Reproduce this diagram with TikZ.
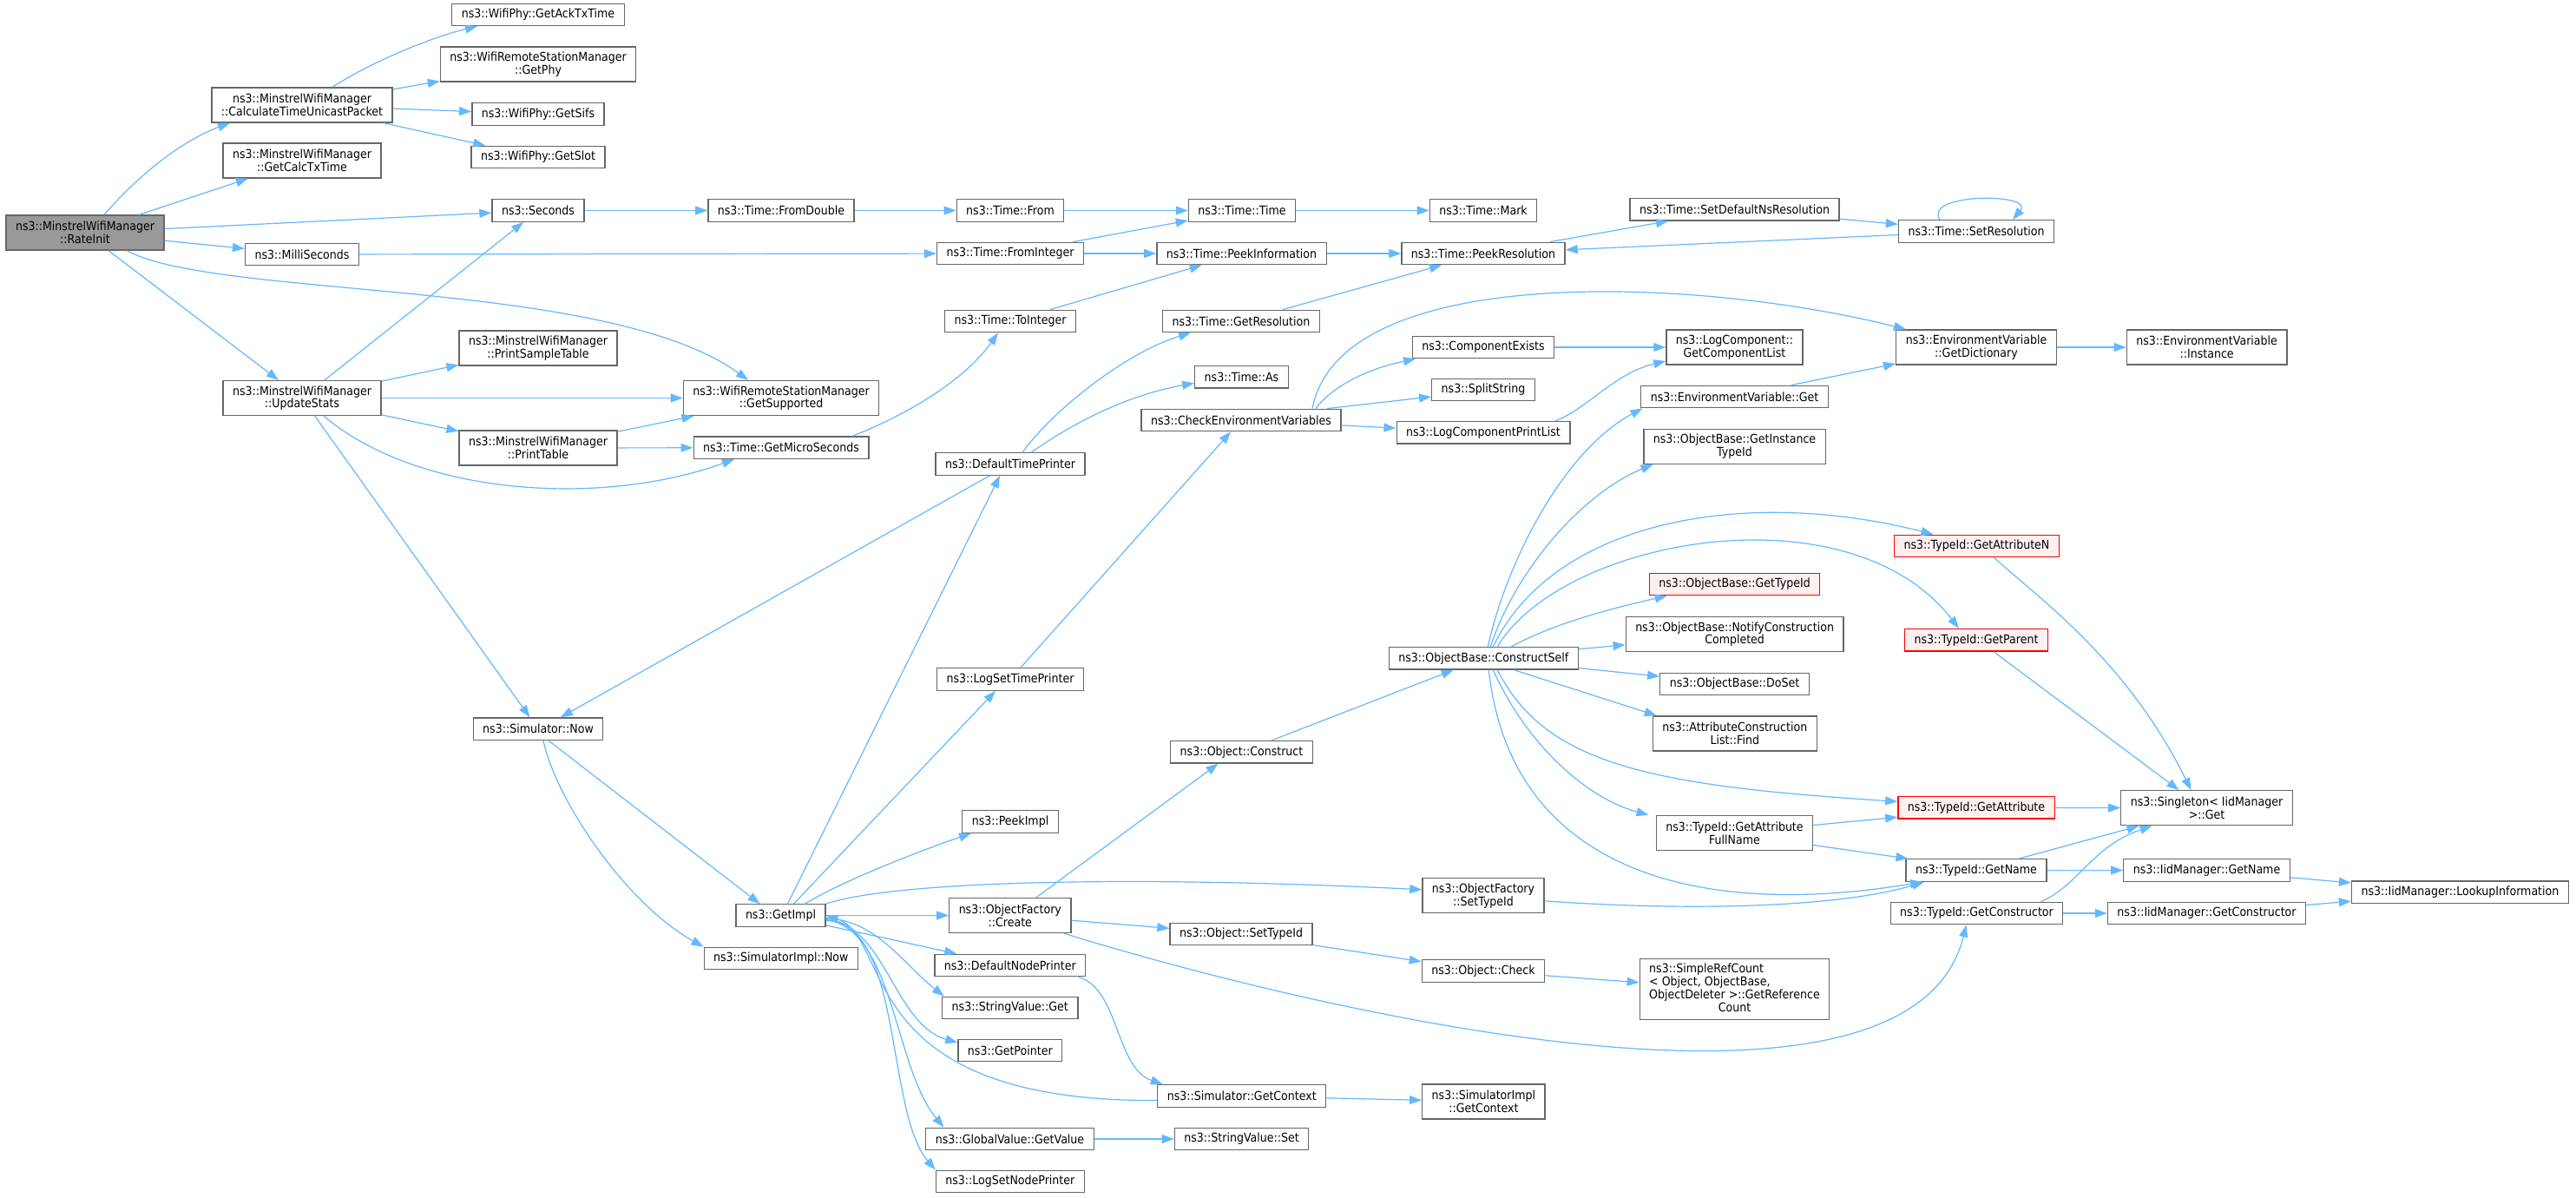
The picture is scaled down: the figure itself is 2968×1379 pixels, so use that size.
\documentclass[tikz,border=0pt]{standalone}
\usepackage{fontspec}
\setmainfont{DejaVu Sans}[FakeStretch=0.9]
\usetikzlibrary{arrows.meta}
\definecolor{edgeblue}{HTML}{63B8FF}
\definecolor{boxgray}{HTML}{666666}
\definecolor{rootgray}{HTML}{999999}
\definecolor{redfill}{HTML}{FFF0F0}
\begin{document}
\begin{tikzpicture}[x=1pt,y=-1pt,font=\fontsize{14}{14.7}\selectfont,
	fn/.style={draw=boxgray,fill=white,line width=1.3pt,minimum height=25.5pt,inner xsep=11pt,inner ysep=3pt,align=center},
	fntwo/.style={fn,minimum height=40pt},
	fnroot/.style={fntwo,fill=rootgray},
	fnred/.style={fn,draw=red,fill=redfill},
	call/.style={draw=edgeblue,line width=1.2pt,-{Triangle[length=14pt,width=10pt]}}]
		\useasboundingbox (0,0) rectangle (2968,1379);
		\fill[white] (0,0) rectangle (2968,1379);
		\node[fnroot] (ri) at (98,268) {ns3::MinstrelWifiManager\\::RateInit};
		\node[fntwo] (calc) at (348,121) {ns3::MinstrelWifiManager\\::CalculateTimeUnicastPacket};
		\node[fntwo] (calctx) at (348,185) {ns3::MinstrelWifiManager\\::GetCalcTxTime};
		\node[fn] (msec) at (348,293) {ns3::MilliSeconds};
		\node[fntwo] (us) at (348,458.5) {ns3::MinstrelWifiManager\\::UpdateStats};
		\node[fn] (ack) at (620,17) {ns3::WifiPhy::GetAckTxTime};
		\node[fntwo] (phy) at (620,74) {ns3::WifiRemoteStationManager\\::GetPhy};
		\node[fn] (sifs) at (620,131.5) {ns3::WifiPhy::GetSifs};
		\node[fn] (slot) at (620,181) {ns3::WifiPhy::GetSlot};
		\node[fn] (sec) at (620,242.5) {ns3::Seconds};
		\node[fntwo] (pst) at (620,401) {ns3::MinstrelWifiManager\\::PrintSampleTable};
		\node[fntwo] (pt) at (620,516) {ns3::MinstrelWifiManager\\::PrintTable};
		\node[fn] (snow) at (620,839.7) {ns3::Simulator::Now};
		\node[fn] (fdbl) at (900,242.5) {ns3::Time::FromDouble};
		\node[fntwo] (gsup) at (900,458.5) {ns3::WifiRemoteStationManager\\::GetSupported};
		\node[fn] (gms) at (900,515.7) {ns3::Time::GetMicroSeconds};
		\node[fn] (gi) at (899.5,1054.5) {ns3::GetImpl};
		\node[fn] (sin) at (899.8,1104) {ns3::SimulatorImpl::Now};
		\node[fn] (from) at (1164,242.5) {ns3::Time::From};
		\node[fn] (fint) at (1164,292) {ns3::Time::FromInteger};
		\node[fn] (toint) at (1164,370) {ns3::Time::ToInteger};
		\node[fn] (dtp) at (1164,534.5) {ns3::DefaultTimePrinter};
		\node[fn] (lstp) at (1164,782.5) {ns3::LogSetTimePrinter};
		\node[fn] (pim) at (1164,946.5) {ns3::PeekImpl};
		\node[fntwo] (ofc) at (1163.8,1054.5) {ns3::ObjectFactory\\::Create};
		\node[fn] (dnp) at (1163.8,1112) {ns3::DefaultNodePrinter};
		\node[fn] (svg) at (1163.8,1161) {ns3::StringValue::Get};
		\node[fn] (gp) at (1163.8,1210) {ns3::GetPointer};
		\node[fn] (gvgv) at (1163.5,1312) {ns3::GlobalValue::GetValue};
		\node[fn] (lsnp) at (1163.8,1361) {ns3::LogSetNodePrinter};
		\node[fn] (tt) at (1431,242.5) {ns3::Time::Time};
		\node[fn] (pinf) at (1430.5,292) {ns3::Time::PeekInformation};
		\node[fn] (gres) at (1430,370) {ns3::Time::GetResolution};
		\node[fn] (as) at (1430.5,434.3) {ns3::Time::As};
		\node[fn] (cev) at (1430,484) {ns3::CheckEnvironmentVariables};
		\node[fn] (oc) at (1430.5,866.3) {ns3::Object::Construct};
		\node[fn] (ost) at (1430,1076) {ns3::Object::SetTypeId};
		\node[fn] (sgc) at (1430.8,1262.5) {ns3::Simulator::GetContext};
		\node[fn] (svs) at (1430.6,1312) {ns3::StringValue::Set};
		\node[fn] (mark) at (1709,242.5) {ns3::Time::Mark};
		\node[fn] (pres) at (1709,292) {ns3::Time::PeekResolution};
		\node[fn] (cex) at (1709,400) {ns3::ComponentExists};
		\node[fn] (split) at (1709,449) {ns3::SplitString};
		\node[fn] (lcpl) at (1709,498.3) {ns3::LogComponentPrintList};
		\node[fn] (cs) at (1709.3,758.3) {ns3::ObjectBase::ConstructSelf};
		\node[fntwo] (ofst) at (1709,1031.8) {ns3::ObjectFactory\\::SetTypeId};
		\node[fn] (ochk) at (1709,1118.5) {ns3::Object::Check};
		\node[fntwo] (sigc) at (1709.4,1269) {ns3::SimulatorImpl\\::GetContext};
		\node[fn] (sdns) at (1998.5,241.3) {ns3::Time::SetDefaultNsResolution};
		\node[fntwo] (gcl) at (1998.5,400) {ns3::LogComponent::\\GetComponentList};
		\node[fn] (evget) at (1998.5,457) {ns3::EnvironmentVariable::Get};
		\node[fntwo] (git) at (1998.5,514.3) {ns3::ObjectBase::GetInstance\\TypeId};
		\node[fnred] (gtid) at (1998.6,673) {ns3::ObjectBase::GetTypeId};
		\node[fntwo] (ncc) at (1998.6,730.7) {ns3::ObjectBase::NotifyConstruction\\Completed};
		\node[fn] (doset) at (1998.5,788) {ns3::ObjectBase::DoSet};
		\node[fntwo] (acl) at (1998.8,845) {ns3::AttributeConstruction\\List::Find};
		\node[fntwo] (gafn) at (1998.5,959.5) {ns3::TypeId::GetAttribute\\FullName};
		\node[fn,minimum height=70pt,inner ysep=5pt] (src) at (1998.5,1139.8) {\begin{tabular}{@{}c@{}}\multicolumn{1}{@{}l@{}}{ns3::SimpleRefCount}\\\multicolumn{1}{@{}l@{}}{< Object, ObjectBase,}\\ObjectDeleter >::GetReference\\Count\end{tabular}};
		\node[fn] (sres) at (2277,266.5) {ns3::Time::SetResolution};
		\node[fntwo] (gdict) at (2277,400) {ns3::EnvironmentVariable\\::GetDictionary};
		\node[fnred] (gan) at (2277.5,629) {ns3::TypeId::GetAttributeN};
		\node[fnred] (gpar) at (2277,737.3) {ns3::TypeId::GetParent};
		\node[fnred] (gat) at (2277,930.3) {ns3::TypeId::GetAttribute};
		\node[fn] (gname) at (2277,1002.5) {ns3::TypeId::GetName};
		\node[fn] (gcons) at (2277.5,1052) {ns3::TypeId::GetConstructor};
		\node[fntwo] (inst) at (2542.6,400) {ns3::EnvironmentVariable\\::Instance};
		\node[fntwo] (sing) at (2542.5,930.7) {ns3::Singleton< IidManager\\>::Get};
		\node[fn] (iname) at (2542.5,1002.5) {ns3::IidManager::GetName};
		\node[fn] (icons) at (2542.5,1052) {ns3::IidManager::GetConstructor};
		\node[fn] (look) at (2834.4,1027.8) {ns3::IidManager::LookupInformation};
		\draw[call] ([xshift=22pt]ri.north) .. controls (170,190) and (220,158) .. ([xshift=-83pt]calc.south);
		\draw[call] (ri) -- (calctx);
		\draw[call] (ri) -- (sec);
		\draw[call] (ri) -- (msec);
		\draw[call] ([xshift=48pt]ri.south) .. controls (250,345) and (700,320) .. ([xshift=-38pt]gsup.north);
		\draw[call] (ri) -- (us);
		\draw[call] ([xshift=35pt]calc.north) .. controls (430,70) and (500,42) .. ([xshift=-70pt]ack.south);
		\draw[call] (calc) -- (phy);
		\draw[call] (calc) -- (sifs);
		\draw[call] (calc) -- (slot);
		\draw[call] (us) -- (sec);
		\draw[call] (us) -- (pst);
		\draw[call] (us) -- (gsup);
		\draw[call] (us) -- (pt);
		\draw[call] ([xshift=25pt]us.south) .. controls (480,570) and (690,585) .. ([xshift=-54pt]gms.south);
		\draw[call] (us) -- (snow);
		\draw[call] (pt) -- (gsup);
		\draw[call] (pt) -- (gms);
		\draw[call] (sec) -- (fdbl);
		\draw[call] (fdbl) -- (from);
		\draw[call] (from) -- (tt);
		\draw[call] (msec) -- (fint);
		\draw[call] (fint) -- (tt);
		\draw[call] (fint) -- (pinf);
		\draw[call] (tt) -- (mark);
		\draw[call] (pinf) -- (pres);
		\draw[call] (toint) -- (pinf);
		\draw[call] (gres) -- (pres);
		\draw[call] (pres) -- (sdns);
		\draw[call] (sdns) -- (sres);
		\draw[call] (sres) -- (pres);
		\draw[call] ([xshift=-42pt]sres.north) .. controls (2215,222) and (2345,222) .. ([xshift=42pt]sres.north);
		\draw[call] ([xshift=82pt]gms.north) .. controls (1040,480) and (1110,440) .. ([xshift=-14pt]toint.south);
		\draw[call] ([xshift=14pt]dtp.north) .. controls (1215,470) and (1300,405) .. ([xshift=-58pt]gres.south);
		\draw[call] ([xshift=24pt]dtp.north) .. controls (1240,485) and (1300,455) .. ([yshift=-7pt]as.west);
		\draw[call] (dtp) -- ([xshift=26pt]snow.north);
		\draw[call] ([xshift=82pt]cev.north) .. controls (1545,300) and (1960,320) .. ([xshift=-81pt]gdict.north);
		\draw[call] ([xshift=86pt]cev.north) .. controls (1535,445) and (1575,425) .. ([xshift=-78pt]cex.south);
		\draw[call] ([xshift=99pt]cev.north) -- ([yshift=-8pt]split.west);
		\draw[call] (cev) -- (lcpl);
		\draw[call] (cex) -- (gcl);
		\draw[call] ([xshift=83pt]lcpl.north) .. controls (1830,470) and (1860,430) .. ([yshift=-16pt]gcl.west);
		\draw[call] (evget) -- (gdict);
		\draw[call] (gdict) -- (inst);
		\draw[call] (lstp) -- (cev);
		\draw[call] (oc) -- (cs);
		\draw[call] ([xshift=5pt]cs.north) .. controls (1735,650) and (1800,520) .. ([xshift=-106pt]evget.south);
		\draw[call] ([xshift=8pt]cs.north) .. controls (1745,660) and (1820,570) .. ([xshift=-94pt]git.south);
		\draw[call] ([xshift=11pt]cs.north) .. controls (1790,600) and (2010,560) .. ([xshift=-50pt]gan.north);
		\draw[call] ([xshift=16pt]cs.north) .. controls (1800,620) and (2130,560) .. ([xshift=-20pt]gpar.north);
		\draw[call] ([xshift=32pt]cs.north) .. controls (1790,718) and (1860,700) .. ([xshift=-78pt]gtid.south);
		\draw[call] (cs) -- (ncc);
		\draw[call] (cs) -- (doset);
		\draw[call] ([xshift=35pt]cs.south) -- ([xshift=5pt]acl.north west);
		\draw[call] ([xshift=16pt]cs.south) .. controls (1780,880) and (1900,905) .. ([yshift=7pt]gat.west);
		\draw[call] ([xshift=11pt]cs.south) .. controls (1760,860) and (1830,920) .. ([xshift=-99pt]gafn.north);
		\draw[call] ([xshift=6pt]cs.south) .. controls (1740,1000) and (1950,1060) .. ([xshift=-62pt]gname.south);
		\draw[call] ([xshift=30pt]ofc.north) -- ([xshift=-27pt]oc.south);
		\draw[call] (ofc) -- (ost);
		\draw[call] ([xshift=62pt]ofc.south) .. controls (1500,1160) and (2200,1330) .. ([xshift=-12pt]gcons.south);
		\draw[call] (ost) -- (ochk);
		\draw[call] (ochk) -- (src);
		\draw[call] ([yshift=-6pt]ofst.east) .. controls (1950,1050) and (2120,1045) .. ([xshift=-60pt]gname.south);
		\draw[call] ([xshift=8pt]gi.north) -- ([xshift=-12pt]dtp.south);
		\draw[call] ([xshift=15pt]gi.north) -- ([xshift=-17pt]lstp.south);
		\draw[call] ([xshift=28pt]gi.north) .. controls (970,1015) and (1060,980) .. ([xshift=-45pt]pim.south);
		\draw[call] (gi.north east) .. controls (1030,1015) and (1300,1008) .. ([yshift=7pt]ofst.west);
		\draw[call] (gi) -- (ofc);
		\draw[call] (gi) -- (dnp);
		\draw[call] ([yshift=-3pt]gi.east) .. controls (1010,1060) and (1040,1110) .. ([xshift=-76pt]svg.north);
		\draw[call] ([yshift=-4pt]gi.east) .. controls (1020,1065) and (1030,1180) .. ([yshift=9pt]gp.west);
		\draw[call] ([yshift=-5pt]gi.east) .. controls (1030,1070) and (1030,1230) .. ([xshift=-76pt]gvgv.north);
		\draw[call] ([yshift=-6pt]gi.east) .. controls (1040,1060) and (1020,1280) .. ([xshift=-86pt]lsnp.north);
		\draw[call] ([yshift=-5pt]sgc.west) .. controls (980,1270) and (1030,1080) .. (gi.east);
		\draw[call] ([xshift=79pt]dnp.south) .. controls (1290,1140) and (1285,1230) .. ([xshift=-91pt]sgc.north);
		\draw[call] (sgc) -- (sigc);
		\draw[call] (gvgv) -- (svs);
		\draw[call] ([xshift=12pt]snow.south) -- ([xshift=-24pt]gi.north);
		\draw[call] ([xshift=6pt]snow.south) .. controls (640,920) and (720,1040) .. (sin.north west);
		\draw[call] ([yshift=9pt]gafn.east) -- ([yshift=-11pt]gat.west);
		\draw[call] ([yshift=-14pt]gafn.east) -- ([xshift=3pt]gname.north west);
		\draw[call] (gat) -- (sing);
		\draw[call] ([xshift=20pt]gan.south) .. controls (2350,690) and (2450,760) .. ([xshift=-18pt]sing.north);
		\draw[call] ([xshift=20pt]gpar.south) -- ([xshift=-32pt]sing.north);
		\draw[call] ([xshift=49pt]gname.north) -- ([xshift=-78pt]sing.south);
		\draw[call] (gname) -- (iname);
		\draw[call] ([xshift=74pt]gcons.north) .. controls (2395,1020) and (2410,975) .. ([xshift=-63pt]sing.south);
		\draw[call] (gcons) -- (icons);
		\draw[call] (iname) -- (look);
		\draw[call] (icons) -- (look);
	\end{tikzpicture}
\end{document}
